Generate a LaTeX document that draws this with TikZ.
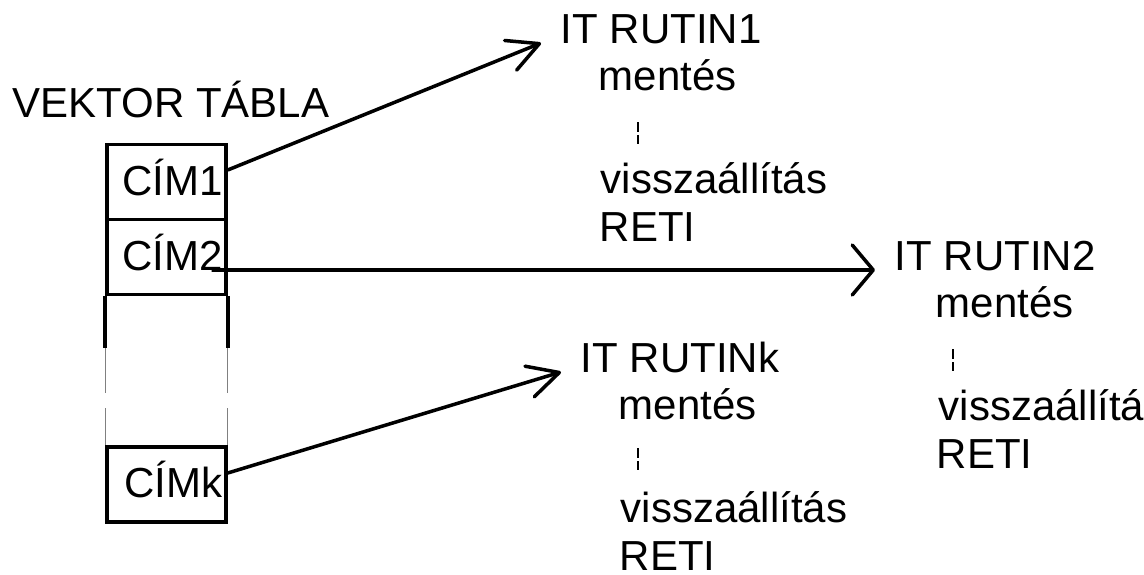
\documentclass[tikz,border=0pt]{standalone}
\usepackage{fontspec}
\setmainfont{Liberation Sans}
\usetikzlibrary{arrows.meta}

\begin{document}
\begin{tikzpicture}[x=0.02cm, y=-0.02cm, line width=2pt,
    every node/.style={font=\fontsize{23.9}{28}\selectfont},
    cell/.style={draw, minimum height=1.5cm, text width=2.24cm, inner xsep=0.07cm,
      align=right, text height=0.6cm, text depth=0.08cm},
    txt/.style={anchor=base west, inner sep=0pt},
    head/.style={txt, inner xsep=0.36cm},
    rail/.style={line width=0.6pt, gray},
    gap/.style={line width=0.6pt, dash pattern=on 0.2cm off 0.06cm},
    slant/.style={-{Straight Barb[round, length=0.62cm, width=0.64cm]}},
    flat/.style={-{Straight Barb[round, length=0.42cm, width=1cm]}}]
  \useasboundingbox (0,0) rectangle (1144,575);

  % vector table
  \node (VT) [txt] at (11,117) {VEKTOR TÁBLA};
  \node (CIM1) [cell] at (166.5,182) {CÍM1};
  \node (CIM2) [cell] at (166.5,257) {CÍM2};
  \node (CIMk) [cell] at (166.5,484.5) {CÍMk};
  \draw (CIM2.south west) -- ++(0,52);
  \draw (CIM2.south east) -- ++(0,52);
  \draw[rail] (CIM2.south west) ++(0,52) -- ++(0,45) ++(0,15) -- (CIMk.north west);
  \draw[rail] (CIM2.south east) ++(0,52) -- ++(0,45) ++(0,15) -- (CIMk.north east);

  % routine 1
  \node (IT1) [head] at (541,43) {IT RUTIN1};
  \node (M1) [txt] at (597,90) {mentés};
  \node (V1) [txt] at (599,193) {visszaállítás};
  \node (R1) [txt] at (598,241) {RETI};
  \draw[gap] (638,122) -- (638,144);

  % routine 2
  \node (IT2) [head] at (875,270) {IT RUTIN2};
  \node (M2) [txt] at (934,317) {mentés};
  \node (V2) [txt] at (937,420) {visszaállítás};
  \node (R2) [txt] at (935,468) {RETI};
  \draw[gap] (953,349) -- (953,371);

  % routine k
  \node (ITk) [head] at (561,372) {IT RUTINk};
  \node (Mk) [txt] at (617,419) {mentés};
  \node (Vk) [txt] at (619,522) {visszaállítás};
  \node (Rk) [txt] at (618,570) {RETI};
  \draw[gap] (638,448) -- (638,470);

  \draw[slant] ([yshift=0.24cm]CIM1.east) -- (IT1.base west);
  \draw[flat] ([xshift=-0.32cm]CIM2.base east) -- (IT2.base west);
  \draw[slant] ([yshift=0.23cm]CIMk.east) -- (ITk.base west);
\end{tikzpicture}
\end{document}
